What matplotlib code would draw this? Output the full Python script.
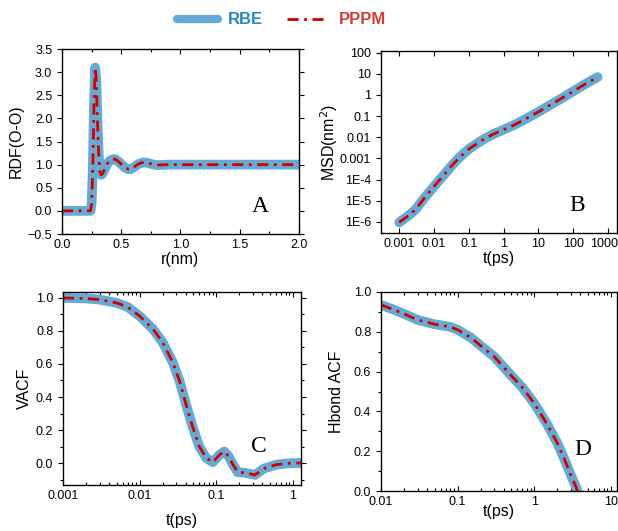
import matplotlib.pyplot as plt
import numpy as np
from matplotlib.lines import Line2D
from matplotlib.transforms import ScaledTranslation

plt.rcParams['font.family'] = ['Liberation Sans', 'DejaVu Sans']

# A: radial distribution function O-O
r_nm = [0.0, 0.1, 0.2, 0.24, 0.25, 0.26, 0.27, 0.28, 0.29, 0.30, 0.31, 0.32, 0.33,
        0.34, 0.36, 0.38, 0.40, 0.42, 0.45, 0.48, 0.50, 0.53, 0.56, 0.58, 0.60,
        0.63, 0.66, 0.69, 0.72, 0.76, 0.80, 0.9, 1.0, 1.2, 1.4, 1.6, 1.8, 2.0]
rdf = [0.0, 0.0, 0.0, 0.0, 0.15, 0.9, 2.3, 3.1, 2.8, 1.9, 1.2, 0.85, 0.78,
       0.80, 0.90, 1.01, 1.08, 1.11, 1.12, 1.06, 1.01, 0.94, 0.90, 0.90, 0.93,
       0.99, 1.03, 1.05, 1.04, 1.01, 0.99, 1.0, 1.0, 1.0, 1.0, 1.0, 1.0, 1.0]

# B: mean square displacement
t_msd = [0.001, 0.002, 0.003, 0.005, 0.01, 0.02, 0.03, 0.05, 0.1, 0.2, 0.3, 0.5,
         1, 2, 5, 10, 20, 50, 100, 200, 500]
msd = [9.5e-7, 2.2e-6, 4e-6, 1.2e-5, 4.8e-5, 1.8e-4, 4e-4, 1.0e-3, 2.8e-3, 6e-3,
       9e-3, 1.4e-2, 2.3e-2, 3.8e-2, 8.5e-2, 0.16, 0.31, 0.75, 1.5, 3.0, 7.0]

# C: velocity autocorrelation
t_vacf = [0.001, 0.002, 0.003, 0.005, 0.007, 0.01, 0.015, 0.02, 0.027, 0.033, 0.04,
          0.049, 0.06, 0.074, 0.09, 0.11, 0.127, 0.145, 0.165, 0.19, 0.245, 0.32,
          0.41, 0.6, 0.8, 1.0, 1.27]
vacf = [1.0, 0.997, 0.99, 0.97, 0.945, 0.89, 0.81, 0.73, 0.61, 0.50, 0.36,
        0.22, 0.10, 0.03, 0.005, 0.05, 0.07, 0.04, -0.01, -0.055, -0.06, -0.072,
        -0.035, -0.01, -0.003, 0.0, 0.0]

# D: hydrogen bond autocorrelation
t_hb = [0.01, 0.015, 0.02, 0.03, 0.05, 0.08, 0.1, 0.15, 0.2, 0.3, 0.5, 0.7,
        1.0, 1.5, 2.0, 2.5, 3.0, 3.5, 4.0]
hb_acf = [0.935, 0.91, 0.89, 0.86, 0.838, 0.825, 0.81, 0.77, 0.73, 0.675, 0.58, 0.52,
          0.44, 0.33, 0.24, 0.155, 0.08, 0.02, -0.04]

blue = '#66aad4'
red = '#d00000'
dashdot = (0, (4, 2, 1, 2))

fig = plt.figure(figsize=(6.18, 5.31), dpi=100)
axA = fig.add_axes([0.1003, 0.5593, 0.3835, 0.3484])
axB = fig.add_axes([0.6165, 0.5612, 0.3819, 0.3428])
axC = fig.add_axes([0.1019, 0.0866, 0.3851, 0.3635])
axD = fig.add_axes([0.6165, 0.0753, 0.3819, 0.3748])

panels = [
    (axA, r_nm, rdf, 'r(nm)', 'RDF(O-O)', 1, 3),
    (axB, t_msd, msd, 't(ps)', 'MSD(nm$^2$)', 1, 0),
    (axC, t_vacf, vacf, 't(ps)', 'VACF', 8, 3),
    (axD, t_hb, hb_acf, 't(ps)', 'Hbond ACF', -3, 7),
]

for ax, x, y, xl, yl, xpad, ypad in panels:
    ax.plot(x, y, color=blue, lw=7, solid_capstyle='round', solid_joinstyle='round')
    ax.plot(x, y, color=red, lw=2, linestyle=dashdot)
    ax.set_xlabel(xl, fontsize=11.5, labelpad=xpad)
    ax.set_ylabel(yl, fontsize=11.5, labelpad=ypad)
    ax.tick_params(which='both', top=True, right=True, labelsize=9, width=0.8)
    ax.tick_params(which='major', length=3.5)
    ax.tick_params(which='minor', length=2)
    ax.tick_params(axis='x', which='both', direction='in')
    ax.tick_params(axis='y', which='both', direction='out')
    for s in ax.spines.values():
        s.set_linewidth(1.0)

axA.set_xlim(0, 2.0)
axA.set_ylim(-0.5, 3.5)
axA.set_xticks(np.arange(0, 2.01, 0.5))
axA.set_yticks(np.arange(-0.5, 3.51, 0.5))
axA.set_xticks(np.arange(0, 2.01, 0.25), minor=True)
axA.text(0.80, 0.12, 'A', transform=axA.transAxes, fontsize=17, family='Liberation Serif')

axB.set_xscale('log')
axB.set_yscale('log')
axB.set_xlim(3e-4, 1800)
axB.set_ylim(3e-7, 120)
xt_b = [0.001, 0.01, 0.1, 1, 10, 100, 1000]
axB.set_xticks(xt_b)
axB.set_xticklabels(['0.001', '0.01', '0.1', '1', '10', '100', '1000'])
yt_b = [1e-6, 1e-5, 1e-4, 1e-3, 1e-2, 0.1, 1, 10, 100]
axB.set_yticks(yt_b)
axB.set_yticklabels(['1E-6', '1E-5', '1E-4', '0.001', '0.01', '0.1', '1', '10', '100'])
last = axB.get_xticklabels()[-1]
last.set_transform(last.get_transform() + ScaledTranslation(-3 / 72, 0, fig.dpi_scale_trans))
axB.text(0.80, 0.12, 'B', transform=axB.transAxes, fontsize=17, family='Liberation Serif')

axC.set_xscale('log')
axC.set_xlim(0.001, 1.27)
axC.set_ylim(-0.133, 1.036)
axC.set_xticks([0.001, 0.01, 0.1, 1])
axC.set_xticklabels(['0.001', '0.01', '0.1', '1'])
axC.set_yticks([0.0, 0.2, 0.4, 0.6, 0.8, 1.0])
axC.set_yticks(np.arange(-0.1, 1.01, 0.1), minor=True)
axC.text(0.79, 0.17, 'C', transform=axC.transAxes, fontsize=17, family='Liberation Serif')

axD.set_xscale('log')
axD.set_xlim(0.01, 12)
axD.set_ylim(0, 1.0)
axD.set_xticks([0.01, 0.1, 1, 10])
axD.set_xticklabels(['0.01', '0.1', '1', '10'])
axD.set_yticks([0.0, 0.2, 0.4, 0.6, 0.8, 1.0])
axD.set_yticks(np.arange(0, 1.01, 0.1), minor=True)
axD.text(0.82, 0.18, 'D', transform=axD.transAxes, fontsize=17, family='Liberation Serif')

handles = [Line2D([], [], color=blue, lw=6, solid_capstyle='round'),
           Line2D([], [], color=red, lw=2, linestyle=dashdot)]
leg = fig.legend(handles, ['RBE', 'PPPM'], loc='upper center', bbox_to_anchor=(0.455, 1.005),
                 ncol=2, frameon=False, handlelength=2.5, columnspacing=1.4,
                 handletextpad=0.6, prop={'size': 12, 'weight': 'bold'})
for txt, c in zip(leg.get_texts(), ['#2a86c0', '#d43c3c']):
    txt.set_color(c)

fig.savefig('out.png', dpi=100)
